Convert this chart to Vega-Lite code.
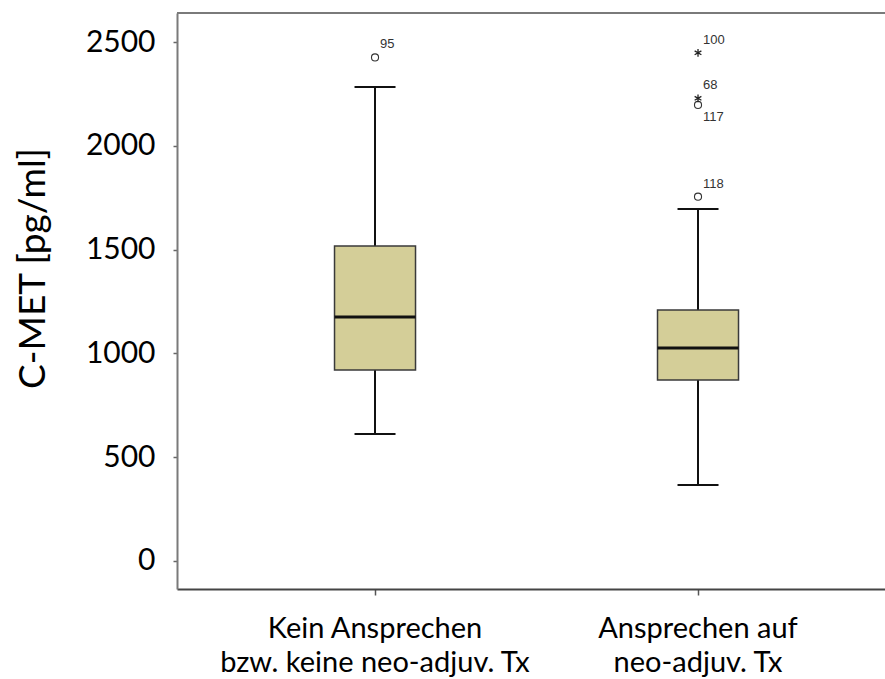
{
  "$schema": "https://vega.github.io/schema/vega-lite/v6.json",
  "width": 708,
  "height": 576,
  "autosize": {"type": "none"},
  "padding": {"left": 177, "top": 13, "right": 0, "bottom": 90},
  "background": "white",
  "config": {"view": {"stroke": null}, "font": "Lato"},
  "datasets": {
    "stats": [
      {"group": "Kein Ansprechen|bzw. keine neo-adjuv. Tx", "lower": 612, "q1": 920, "median": 1175, "q3": 1517, "upper": 2283},
      {"group": "Ansprechen auf|neo-adjuv. Tx", "lower": 366, "q1": 872, "median": 1026, "q3": 1209, "upper": 1696}
    ],
    "outliers": [
      {"group": "Kein Ansprechen|bzw. keine neo-adjuv. Tx", "case": "95", "value": 2426, "kind": "circle", "side": "above"},
      {"group": "Ansprechen auf|neo-adjuv. Tx", "case": "100", "value": 2448, "kind": "star", "side": "above"},
      {"group": "Ansprechen auf|neo-adjuv. Tx", "case": "68", "value": 2229, "kind": "star", "side": "above"},
      {"group": "Ansprechen auf|neo-adjuv. Tx", "case": "117", "value": 2197, "kind": "circle", "side": "below"},
      {"group": "Ansprechen auf|neo-adjuv. Tx", "case": "118", "value": 1755, "kind": "circle", "side": "above"}
    ]
  },
  "layer": [
    {
      "data": {"values": [{"top": 2640}]},
      "mark": {"type": "rule", "color": "#7a7a7a", "strokeWidth": 2},
      "encoding": {
        "y": {"field": "top", "type": "quantitative", "scale": {"domain": [-135, 2640], "nice": false, "zero": false},
          "axis": {"values": [0, 500, 1000, 1500, 2000, 2500], "format": "d", "tickSize": 4, "tickColor": "#666", "tickWidth": 1.5, "labelFont": "Lato", "labelFontSize": 30, "labelColor": "black", "labelPadding": 18, "domainColor": "#7a7a7a", "domainWidth": 2, "grid": false, "title": "C-MET [pg/ml]", "titleFont": "Lato", "titleFontSize": 37, "titleFontWeight": "normal", "titleColor": "black", "titleX": -133, "titleY": 255, "titleAlign": "center", "titleBaseline": "alphabetic"}}
      }
    },
    {
      "data": {"name": "stats"},
      "mark": {"type": "rule", "color": "#111", "strokeWidth": 2},
      "encoding": {
        "x": {"field": "group", "type": "nominal", "scale": {"domain": ["Kein Ansprechen|bzw. keine neo-adjuv. Tx", "Ansprechen auf|neo-adjuv. Tx"], "paddingInner": 0, "paddingOuter": 0.096, "align": 0.589},
          "axis": {"title": null, "labelExpr": "split(datum.value, '|')", "labelAngle": 0, "labelFont": "Lato", "labelFontSize": 29, "labelColor": "black", "labelLineHeight": 34, "labelBaseline": "alphabetic", "labelPadding": 42, "labelLimit": 0, "tickSize": 6, "tickColor": "#555", "tickWidth": 1.5, "domainColor": "#444", "domainWidth": 2}},
        "y": {"field": "q3", "type": "quantitative"},
        "y2": {"field": "upper"}
      }
    },
    {
      "data": {"name": "stats"},
      "mark": {"type": "rule", "color": "#111", "strokeWidth": 2},
      "encoding": {
        "x": {"field": "group", "type": "nominal"},
        "y": {"field": "lower", "type": "quantitative"},
        "y2": {"field": "q1"}
      }
    },
    {
      "data": {"name": "stats"},
      "mark": {"type": "bar", "size": 81, "fill": "#d4ce98", "stroke": "#3a3a3a", "strokeWidth": 1.5},
      "encoding": {
        "x": {"field": "group", "type": "nominal"},
        "y": {"field": "q1", "type": "quantitative"},
        "y2": {"field": "q3"}
      }
    },
    {
      "data": {"name": "stats"},
      "mark": {"type": "tick", "size": 81, "thickness": 3, "color": "#111", "opacity": 1},
      "encoding": {
        "x": {"field": "group", "type": "nominal"},
        "y": {"field": "median", "type": "quantitative"}
      }
    },
    {
      "data": {"name": "stats"},
      "mark": {"type": "tick", "size": 41, "thickness": 2, "color": "#111", "opacity": 1},
      "encoding": {
        "x": {"field": "group", "type": "nominal"},
        "y": {"field": "upper", "type": "quantitative"}
      }
    },
    {
      "data": {"name": "stats"},
      "mark": {"type": "tick", "size": 41, "thickness": 2, "color": "#111", "opacity": 1},
      "encoding": {
        "x": {"field": "group", "type": "nominal"},
        "y": {"field": "lower", "type": "quantitative"}
      }
    },
    {
      "data": {"name": "outliers"},
      "transform": [{"filter": "datum.kind === 'circle'"}],
      "mark": {"type": "point", "shape": "circle", "filled": false, "size": 50, "stroke": "#333", "strokeWidth": 1.1, "opacity": 1},
      "encoding": {
        "x": {"field": "group", "type": "nominal"},
        "y": {"field": "value", "type": "quantitative"}
      }
    },
    {
      "data": {"name": "outliers"},
      "transform": [{"filter": "datum.kind === 'star'"}],
      "mark": {"type": "point", "shape": "M0,-1L0,1M-0.87,-0.5L0.87,0.5M-0.87,0.5L0.87,-0.5", "filled": false, "size": 60, "stroke": "#222", "strokeWidth": 1.3, "opacity": 1},
      "encoding": {
        "x": {"field": "group", "type": "nominal"},
        "y": {"field": "value", "type": "quantitative"}
      }
    },
    {
      "data": {"name": "outliers"},
      "transform": [{"filter": "datum.side === 'above'"}],
      "mark": {"type": "text", "font": "Liberation Sans", "fontSize": 13, "color": "#333", "align": "left", "baseline": "middle", "dx": 5, "dy": -13},
      "encoding": {
        "x": {"field": "group", "type": "nominal"},
        "y": {"field": "value", "type": "quantitative"},
        "text": {"field": "case"}
      }
    },
    {
      "data": {"name": "outliers"},
      "transform": [{"filter": "datum.side === 'below'"}],
      "mark": {"type": "text", "font": "Liberation Sans", "fontSize": 13, "color": "#333", "align": "left", "baseline": "middle", "dx": 5, "dy": 12},
      "encoding": {
        "x": {"field": "group", "type": "nominal"},
        "y": {"field": "value", "type": "quantitative"},
        "text": {"field": "case"}
      }
    }
  ]
}
